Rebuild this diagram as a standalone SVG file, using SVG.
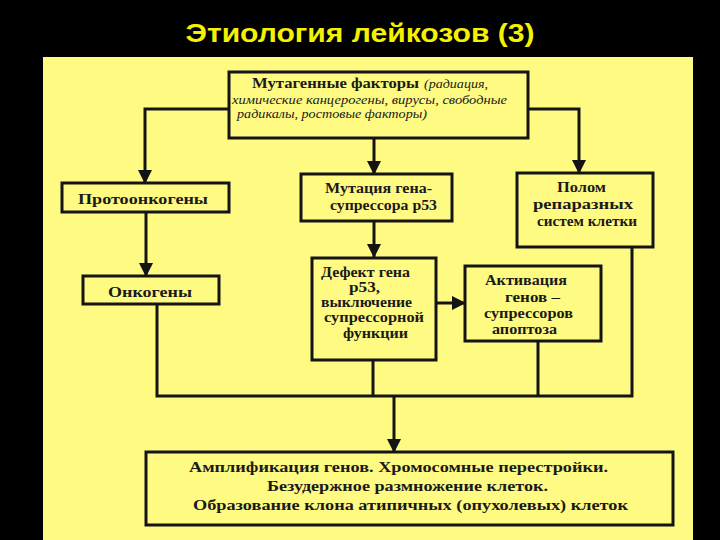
<svg xmlns="http://www.w3.org/2000/svg" width="720" height="540" viewBox="0 0 720 540">
<style>
.box{fill:#fffa82;stroke:#141414;stroke-width:3}
.t{font-family:"Liberation Serif","Times New Roman",serif;font-weight:bold;fill:#1a1a1a;font-size:15px}
.i{font-family:"Liberation Serif","Times New Roman",serif;font-style:italic;fill:#1a1a1a;font-size:13px}
.c{fill:none;stroke:#141414;stroke-width:3}
</style>
<defs>
<marker id="ah" markerUnits="userSpaceOnUse" markerWidth="14" markerHeight="14" viewBox="0 0 14 14" refX="13" refY="7" orient="auto">
<path d="M0,0 L14,7 L0,14 Z" fill="#141414"/>
</marker>
</defs>
<rect width="720" height="540" fill="#000"/>
<rect x="43" y="57" width="650" height="483" fill="#fffa82"/>
<text x="360" y="42" text-anchor="middle" font-family="'Liberation Sans Narrow','Liberation Sans',Arial,sans-serif" font-weight="bold" font-size="26" fill="#f5f200" textLength="349" lengthAdjust="spacingAndGlyphs">Этиология лейкозов (3)</text>

<g id="connectors">
<path class="c" d="M229,109 H145 V183" marker-end="url(#ah)"/>
<path class="c" d="M528,109 H579 V173" marker-end="url(#ah)"/>
<path class="c" d="M374,138 V174" marker-end="url(#ah)"/>
<path class="c" d="M374,221 V257" marker-end="url(#ah)"/>
<path class="c" d="M146,212 V276" marker-end="url(#ah)"/>
<path class="c" d="M437,303 H465" marker-end="url(#ah)"/>
<path class="c" d="M157,304 V396 H632 V247"/>
<path class="c" d="M373,360 V396"/>
<path class="c" d="M538,341 V396"/>
<path class="c" d="M394,396 V452" stroke-width="4" marker-end="url(#ah)"/>
</g>

<g id="mutagens">
<rect class="box" x="229" y="72" width="299" height="66"/>
<text class="t" x="252" y="88" textLength="167" lengthAdjust="spacingAndGlyphs">Мутагенные факторы</text>
<text class="i" x="424" y="88" textLength="64" lengthAdjust="spacingAndGlyphs">(радиация,</text>
<text class="i" x="232" y="104" textLength="275" lengthAdjust="spacingAndGlyphs">химические канцерогены, вирусы, свободные</text>
<text class="i" x="237" y="118" textLength="190" lengthAdjust="spacingAndGlyphs">радикалы, ростовые факторы)</text>
</g>

<g id="protooncogenes">
<rect class="box" x="62" y="183" width="167" height="29"/>
<text class="t" x="78" y="204" textLength="130" lengthAdjust="spacingAndGlyphs">Протоонкогены</text>
</g>

<g id="oncogenes">
<rect class="box" x="83" y="276" width="136" height="28"/>
<text class="t" x="108" y="297" textLength="84" lengthAdjust="spacingAndGlyphs">Онкогены</text>
</g>

<g id="mutation">
<rect class="box" x="301" y="174" width="151" height="47"/>
<text class="t" x="325" y="193" textLength="107" lengthAdjust="spacingAndGlyphs">Мутация гена-</text>
<text class="t" x="330" y="210" textLength="107" lengthAdjust="spacingAndGlyphs">супрессора р53</text>
</g>

<g id="repair">
<rect class="box" x="517" y="173" width="136" height="74"/>
<text class="t" x="557" y="192" textLength="49" lengthAdjust="spacingAndGlyphs">Полом</text>
<text class="t" x="533" y="209" textLength="100" lengthAdjust="spacingAndGlyphs">репаразных</text>
<text class="t" x="537" y="226" textLength="100" lengthAdjust="spacingAndGlyphs">систем клетки</text>
</g>

<g id="defect">
<rect class="box" x="312" y="258" width="124" height="102"/>
<text class="t" x="321" y="277" textLength="89" lengthAdjust="spacingAndGlyphs">Дефект гена</text>
<text class="t" x="349" y="292" textLength="31" lengthAdjust="spacingAndGlyphs">р53,</text>
<text class="t" x="321" y="307" textLength="91" lengthAdjust="spacingAndGlyphs">выключение</text>
<text class="t" x="324" y="322" textLength="100" lengthAdjust="spacingAndGlyphs">супрессорной</text>
<text class="t" x="343" y="338" textLength="65" lengthAdjust="spacingAndGlyphs">функции</text>
</g>

<g id="activation">
<rect class="box" x="465" y="266" width="136" height="75"/>
<text class="t" x="485" y="285" textLength="82" lengthAdjust="spacingAndGlyphs">Активация</text>
<text class="t" x="505" y="302" textLength="55" lengthAdjust="spacingAndGlyphs">генов –</text>
<text class="t" x="484" y="318" textLength="89" lengthAdjust="spacingAndGlyphs">супрессоров</text>
<text class="t" x="492" y="334" textLength="65" lengthAdjust="spacingAndGlyphs">апоптоза</text>
</g>

<g id="result">
<rect class="box" x="146" y="452" width="527" height="73"/>
<text class="t" x="189" y="472" textLength="419" lengthAdjust="spacingAndGlyphs">Амплификация генов. Хромосомные перестройки.</text>
<text class="t" x="267" y="491" textLength="281" lengthAdjust="spacingAndGlyphs">Безудержное размножение клеток.</text>
<text class="t" x="193" y="510" textLength="435" lengthAdjust="spacingAndGlyphs">Образование клона атипичных (опухолевых) клеток</text>
</g>
</svg>
